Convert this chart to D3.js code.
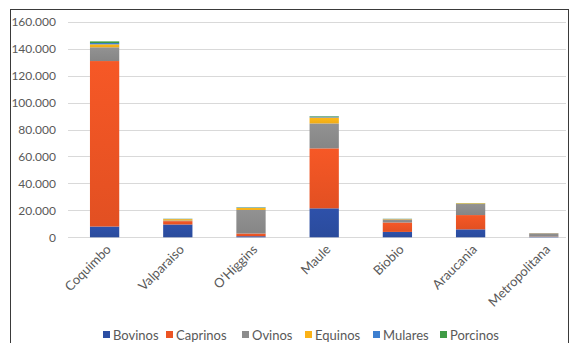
<!DOCTYPE html>
<html>
<head>
<meta charset="utf-8">
<script src="https://cdn.jsdelivr.net/npm/d3@7"></script>
<style>
  html, body { margin: 0; padding: 0; background: #fff; }
  svg { display: block; font-family: Lato, "Open Sans", sans-serif; }
</style>
</head>
<body>
<svg id="chart" width="574" height="343"></svg>
<script>
// Regions (categories)
const regions = ["Coquimbo", "Valparaiso", "O'Higgins", "Maule", "Biobio", "Araucania", "Metropolitana"];

// Livestock heads per region, one array per species
const bovinos   = [8000,   9500,  800, 21500, 4000,  5900,  300];
const caprinos  = [122800, 2500, 2000, 44500, 7000, 10600,  200];
const ovinos    = [10200,   500, 17500, 18500, 2300, 8200, 2500];
const equinos   = [2200,   1000, 1500,  4400,  300,   500,  100];
const mulares   = [1000,    200,  300,   600,  100,   100,    0];
const porcinos  = [1200,    100,  200,   400,  100,   100,    0];

const seriesNames = ["Bovinos", "Caprinos", "Ovinos", "Equinos", "Mulares", "Porcinos"];
const seriesValues = [bovinos, caprinos, ovinos, equinos, mulares, porcinos];
const seriesColors = ["#2c4ea3", "#ec5424", "#8c8c8c", "#fbb217", "#3d7fd0", "#3f9b45"];

const yTicks = [0, 20000, 40000, 60000, 80000, 100000, 120000, 140000, 160000];

const svg = d3.select("#chart");

// Chart frame
svg.append("rect")
  .attr("x", 10.5).attr("y", 9.5)
  .attr("width", 558).attr("height", 345)
  .attr("fill", "#fff").attr("stroke", "#3a3a3a").attr("stroke-width", 1);

const left = 68, gridRight = 566;
const x = d3.scaleBand()
  .domain(regions)
  .range([left, left + 7 * 73.2])
  .paddingInner(0.6)
  .paddingOuter(0.3);
const y = d3.scaleLinear().domain([0, 160000]).range([237.3, 21.7]);

const locale = d3.formatLocale({ decimal: ",", thousands: ".", grouping: [3], currency: ["$", ""] });
const fmt = locale.format(",d");

// Gridlines
svg.append("g")
  .selectAll("line")
  .data(yTicks)
  .join("line")
  .attr("x1", left).attr("x2", gridRight)
  .attr("y1", d => Math.round(y(d)) + 0.5)
  .attr("y2", d => Math.round(y(d)) + 0.5)
  .attr("stroke", "#d9d9d9").attr("stroke-width", 1);

// Y axis labels
const yAxis = d3.axisLeft(y).tickValues(yTicks).tickFormat(fmt).tickSize(0).tickPadding(0);
const gy = svg.append("g").attr("transform", "translate(56,0)").call(yAxis);
gy.select(".domain").remove();
gy.selectAll("text")
  .attr("fill", "#595959")
  .style("font-size", "12px")
  .style("font-family", "Lato, 'Open Sans', sans-serif");

// Gradients per species (lighter top, deeper bottom)
const defs = svg.append("defs");
seriesColors.forEach((c, i) => {
  const g = defs.append("linearGradient")
    .attr("id", "grad" + i)
    .attr("x1", 0).attr("y1", 0).attr("x2", 0).attr("y2", 1);
  g.append("stop").attr("offset", "0%").attr("stop-color", d3.color(c).brighter(0.12));
  g.append("stop").attr("offset", "100%").attr("stop-color", d3.color(c).darker(0.12));
});

// Stack data
const table = regions.map((r, j) => {
  const row = { region: r };
  seriesNames.forEach((s, i) => { row[s] = seriesValues[i][j]; });
  return row;
});
const stacked = d3.stack().keys(seriesNames)(table);

svg.append("g")
  .selectAll("g")
  .data(stacked)
  .join("g")
  .attr("fill", (d, i) => "url(#grad" + i + ")")
  .selectAll("rect")
  .data(d => d)
  .join("rect")
  .attr("x", d => x(d.data.region))
  .attr("width", x.bandwidth())
  .attr("y", d => y(d[1]))
  .attr("height", d => Math.max(0, y(d[0]) - y(d[1])));

// X axis labels, rotated
const xLabels = svg.append("g");
regions.forEach(r => {
  const cx = x(r) + x.bandwidth() / 2;
  xLabels.append("text")
    .attr("transform", `translate(${cx + 4},${247}) rotate(-45)`)
    .attr("text-anchor", "end")
    .attr("dy", "0.35em")
    .attr("fill", "#595959")
    .style("font-size", "13px")
    .text(r);
});

// Legend
const legendX = [103, 166, 242, 305, 373, 440];
const legend = svg.append("g");
seriesNames.forEach((s, i) => {
  legend.append("rect")
    .attr("x", legendX[i]).attr("y", 331)
    .attr("width", 7).attr("height", 7)
    .attr("fill", seriesColors[i]);
  legend.append("text")
    .attr("x", legendX[i] + 10).attr("y", 335)
    .attr("dy", "0.35em")
    .attr("fill", "#595959")
    .style("font-size", "13px")
    .text(s);
});
</script>
</body>
</html>
